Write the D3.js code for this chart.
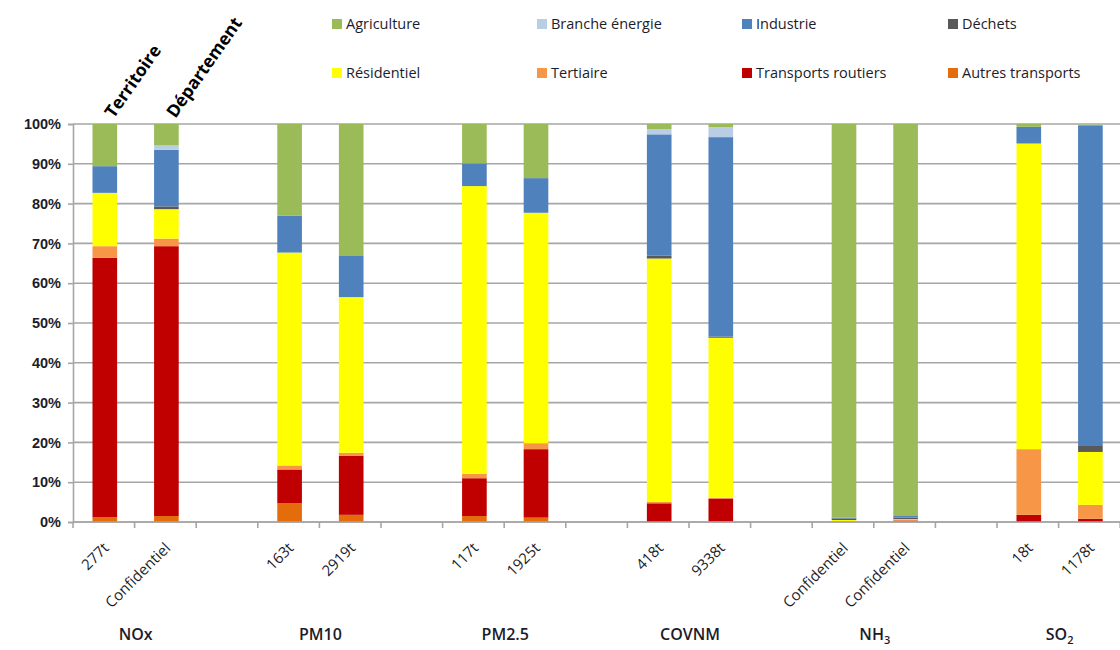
<!DOCTYPE html>
<html lang="fr">
<head>
<meta charset="utf-8">
<title>Répartition sectorielle des émissions</title>
<script src="https://cdn.jsdelivr.net/npm/d3@7"></script>
<style>
  html, body { margin: 0; padding: 0; background: #fff; }
  svg { display: block; font-family: "Open Sans", "Noto Sans", sans-serif; }
</style>
</head>
<body>
<svg id="chart" width="1120" height="650"></svg>
<script>
// Pollutants, each shown as two bars: territory then département
const pollutants = ["NOx", "PM10", "PM2.5", "COVNM", "NH3", "SO2"];
const scopes = ["Territoire", "Département"];
const barLabels = ["277t", "Confidentiel", "163t", "2919t", "117t", "1925t",
                   "418t", "9338t", "Confidentiel", "Confidentiel", "18t", "1178t"];
const yTicks = [0, 0.1, 0.2, 0.3, 0.4, 0.5, 0.6, 0.7, 0.8, 0.9, 1];

// Sector shares (%) per bar, stacked bottom to top in this order
const sectors = ["Autres transports", "Transports routiers", "Tertiaire", "Résidentiel",
                 "Déchets", "Industrie", "Branche énergie", "Agriculture"];
const autresTransports   = [1.2, 1.5, 4.7, 1.8, 1.5, 1.1, 0.0, 0.1, 0.0, 0.3, 0.0, 0.0];
const transportsRoutiers = [65.2, 67.8, 8.5, 14.8, 9.5, 17.2, 4.7, 5.8, 0.1, 0.1, 1.8, 0.8];
const tertiaire          = [2.9, 1.9, 1.0, 0.8, 1.1, 1.5, 0.4, 0.2, 0.0, 0.1, 16.5, 3.5];
const residentiel        = [13.4, 7.4, 53.5, 39.1, 72.3, 57.9, 61.1, 40.2, 0.4, 0.2, 76.8, 13.3];
const dechets            = [0.0, 0.7, 0.0, 0.0, 0.0, 0.0, 0.7, 0.3, 0.4, 0.4, 0.0, 1.5];
const industrie          = [6.7, 14.2, 9.3, 10.5, 5.7, 8.7, 30.5, 50.1, 0.2, 0.4, 4.2, 80.6];
const brancheEnergie     = [0.0, 1.1, 0.0, 0.0, 0.0, 0.0, 1.3, 2.5, 0.0, 0.0, 0.0, 0.2];
const agriculture        = [10.6, 5.4, 23.0, 33.0, 9.9, 13.6, 1.3, 0.8, 98.9, 98.5, 0.7, 0.1];

const seriesValues = [autresTransports, transportsRoutiers, tertiaire, residentiel,
                      dechets, industrie, brancheEnergie, agriculture];
const sectorColors = ["#E46C0A", "#C00000", "#F79646", "#FFFF00",
                      "#595959", "#4F81BD", "#B9CDE5", "#9BBB59"];
// Legend rows as they read left to right
const legendRows = [
  ["Agriculture", "Branche énergie", "Industrie", "Déchets"],
  ["Résidentiel", "Tertiaire", "Transports routiers", "Autres transports"]
];

const svg = d3.select("#chart");
const textColor = "#1c1c2a";
const gridColor = "#a6a6a6";

// One slot per bar plus an empty slot between pollutant groups
const slotsPerGroup = 3;
const slotCount = pollutants.length * slotsPerGroup - 1;
const slotOf = i => Math.floor(i / 2) * slotsPerGroup + (i % 2);

const plot = { left: 73, right: 1120.2, top: 124, bottom: 522 };
const x = d3.scaleBand().domain(d3.range(slotCount)).range([plot.left, plot.right]).padding(0);
const y = d3.scaleLinear().domain([0, 1]).range([plot.bottom, plot.top]);
const barW = x.bandwidth() * 0.4;
const barX = i => x(slotOf(i)) + (x.bandwidth() - barW) / 2 + 1;
const barC = i => barX(i) + barW / 2;

// Table rows for the stack layout
const rows = barLabels.map((lab, i) => {
  const r = { i };
  sectors.forEach((s, k) => { r[s] = seriesValues[k][i] / 100; });
  return r;
});
const stacked = d3.stack().keys(sectors)(rows);

// Horizontal gridlines
svg.append("g").selectAll("line").data(yTicks).join("line")
  .attr("x1", plot.left).attr("x2", plot.right)
  .attr("y1", d => y(d)).attr("y2", d => y(d))
  .attr("stroke", gridColor).attr("stroke-width", 1.6);

// Stacked bars
svg.append("g").selectAll("g").data(stacked).join("g")
  .attr("fill", (d, k) => sectorColors[k])
  .selectAll("rect").data(d => d).join("rect")
  .attr("x", d => barX(d.data.i))
  .attr("width", barW)
  .attr("y", d => y(d[1]))
  .attr("height", d => Math.max(0, y(d[0]) - y(d[1])));

// Y axis
const yAxis = svg.append("g").attr("transform", `translate(${plot.left},0)`)
  .call(d3.axisLeft(y).tickValues(yTicks).tickFormat(d3.format(".0%")).tickSize(5).tickPadding(7));
yAxis.select(".domain").attr("stroke", gridColor).attr("stroke-width", 1.6);
yAxis.selectAll(".tick line").attr("stroke", gridColor).attr("stroke-width", 1.6);
yAxis.selectAll(".tick text").attr("fill", textColor)
  .style("font-size", "14.5px").style("font-weight", 600);

// X axis line with tick marks on slot boundaries
const boundaries = d3.range(slotCount + 1).map(k => plot.left + k * x.step());
const xAxis = svg.append("g");
xAxis.append("line").attr("x1", plot.left).attr("x2", plot.right)
  .attr("y1", plot.bottom).attr("y2", plot.bottom)
  .attr("stroke", gridColor).attr("stroke-width", 1.6);
xAxis.selectAll("line.tk").data(boundaries).join("line").attr("class", "tk")
  .attr("x1", d => d).attr("x2", d => d)
  .attr("y1", plot.bottom).attr("y2", plot.bottom + 6)
  .attr("stroke", gridColor).attr("stroke-width", 1.6);

// Bar labels (tonnages), slanted
svg.append("g").selectAll("text").data(barLabels).join("text")
  .attr("transform", (d, i) => `translate(${barC(i) + 5},${plot.bottom + 27}) rotate(-45)`)
  .attr("text-anchor", "end")
  .attr("fill", textColor)
  .style("font-size", "15px")
  .text(d => d);

// Pollutant names under each pair of bars
const groupLabels = svg.append("g").selectAll("text").data(pollutants).join("text")
  .attr("x", (d, g) => (barC(g * 2) + barC(g * 2 + 1)) / 2)
  .attr("y", 640)
  .attr("text-anchor", "middle")
  .attr("fill", textColor)
  .style("font-size", "16px")
  .style("font-weight", 600);
groupLabels.each(function (d) {
  const t = d3.select(this);
  const m = d.match(/^(NH|SO)(\d)$/);
  if (m) {
    t.append("tspan").text(m[1]);
    t.append("tspan").attr("dy", 4).style("font-size", "11px").text(m[2]);
  } else {
    t.text(d);
  }
});

// Scope headers above the first pair of bars
svg.append("g").selectAll("text").data(scopes).join("text")
  .attr("transform", (d, i) => `translate(${barC(i) + 9},${119}) rotate(-55)`)
  .attr("fill", "#000")
  .style("font-size", "17.5px")
  .style("font-weight", 700)
  .text(d => d);

// Legend
const legendX = [332, 537, 742, 948];
const legendY = [24, 73];
const legend = svg.append("g");
legendRows.forEach((row, r) => {
  row.forEach((name, c) => {
    const k = sectors.indexOf(name);
    const g = legend.append("g").attr("transform", `translate(${legendX[c]},${legendY[r]})`);
    g.append("rect").attr("x", 0).attr("y", -5).attr("width", 10).attr("height", 10)
      .attr("fill", sectorColors[k]);
    g.append("text").attr("x", 14).attr("y", 5)
      .attr("fill", textColor)
      .style("font-size", "14.5px")
      .text(name);
  });
});
</script>
</body>
</html>
